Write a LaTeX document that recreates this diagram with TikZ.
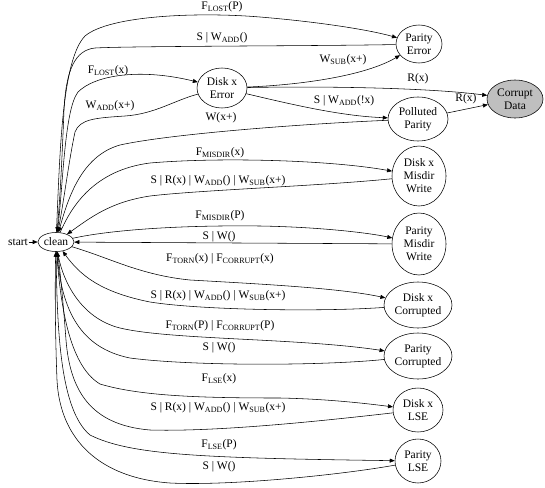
\documentclass[tikz,border=0pt]{standalone}
\usepackage{fontspec}
\setmainfont{Liberation Serif}
\usetikzlibrary{arrows.meta,shapes.geometric}
\newcommand{\sbs}[1]{\textsubscript{#1}}

\begin{document}
\begin{tikzpicture}[x=1pt, y=-1pt, font=\fontsize{11.5}{12.5}\selectfont, >={Triangle[length=5pt,width=4pt]}, line width=0.55pt,
  st/.style={draw, ellipse, inner sep=0pt, align=center, font=\fontsize{11.5}{13}\selectfont},
  sg/.style={st, fill=black!25},
  lb/.style={inner sep=0.5pt}]
  \useasboundingbox (0,0) rectangle (545,487);
  \node[lb] (start) at (18,242) {start};
  \node[st, minimum width=36, minimum height=19] (clean) at (56,242) {clean};
  \node[st, minimum width=46, minimum height=38] (perr) at (419,44) {Parity\\Error};
  \node[st, minimum width=50, minimum height=40] (derr) at (222,88) {Disk x\\Error};
  \node[sg, minimum width=56, minimum height=38] (cdata) at (515,99) {Corrupt\\Data};
  \node[st, minimum width=60, minimum height=44] (ppar) at (418,119) {Polluted\\Parity};
  \node[st, minimum width=54, minimum height=60] (dmis) at (419,176) {Disk x\\Misdir\\Write};
  \node[st, minimum width=54, minimum height=62] (pmis) at (419,244) {Parity\\Misdir\\Write};
  \node[st, minimum width=68, minimum height=46] (dcor) at (418,305) {Disk x\\Corrupted};
  \node[st, minimum width=68, minimum height=46] (pcor) at (418,356) {Parity\\Corrupted};
  \node[st, minimum width=50, minimum height=44] (dlse) at (418,410) {Disk x\\LSE};
  \node[st, minimum width=46, minimum height=44] (plse) at (418,461) {Parity\\LSE};
  \draw[->] (start) -- (clean);
  \draw[->] (clean) .. controls (60,150) and (62,60) .. (85,36) .. controls (110,15) and (200,12) .. (260,17) .. controls (320,22) and (370,30) .. (perr);
  \draw[->] (perr) .. controls (330,46) and (130,46) .. (95,48) .. controls (75,50) and (66,70) .. (64,110) .. controls (62,160) and (60,200) .. (clean);
  \draw[->] (clean) .. controls (63,190) and (64,110) .. (78,92) .. controls (95,75) and (140,68) .. (derr);
  \draw[->] (derr) .. controls (175,100) and (155,114) .. (125,116) .. controls (95,118) and (80,119) .. (75,132) .. controls (69,160) and (64,200) .. (clean);
  \draw[->] (ppar) .. controls (300,124) and (170,134) .. (120,145) .. controls (85,155) and (70,190) .. (clean);
  \draw[->] (derr) .. controls (300,85) and (365,76) .. (perr);
  \draw[->] (derr) .. controls (330,86) and (430,88) .. (cdata);
  \draw[->] (derr) .. controls (290,104) and (340,116) .. (ppar);
  \draw[->] (ppar) -- (cdata);
  \draw[->] (clean) .. controls (72,205) and (95,170) .. (150,163) .. controls (220,157) and (330,160) .. (dmis);
  \draw[->] (dmis) .. controls (320,186) and (200,190) .. (150,196) .. controls (110,202) and (90,218) .. (clean);
  \draw[->] (clean) .. controls (110,230) and (180,225) .. (260,226) .. controls (320,227) and (370,233) .. (pmis);
  \draw[->] (pmis) -- (clean);
  \draw[->] (clean) .. controls (110,258) and (140,275) .. (190,280) .. controls (260,284) and (340,288) .. (dcor);
  \draw[->] (dcor) .. controls (320,312) and (200,310) .. (150,302) .. controls (100,292) and (80,275) .. (clean);
  \draw[->] (clean) .. controls (62,280) and (80,318) .. (120,328) .. controls (170,340) and (300,338) .. (pcor);
  \draw[->] (pcor) .. controls (320,366) and (190,366) .. (130,358) .. controls (80,348) and (62,310) .. (clean);
  \draw[->] (clean) .. controls (60,300) and (68,365) .. (100,384) .. controls (140,396) and (200,398) .. (280,398) .. controls (330,399) and (370,404) .. (dlse);
  \draw[->] (dlse) .. controls (330,420) and (220,432) .. (150,430) .. controls (90,425) and (70,390) .. (66,340) .. controls (63,300) and (60,270) .. (clean);
  \draw[->] (clean) .. controls (57,330) and (60,410) .. (90,435) .. controls (130,455) and (200,458) .. (plse);
  \draw[->] (plse) .. controls (340,475) and (230,486) .. (170,483) .. controls (100,478) and (60,440) .. (57,380) .. controls (55,330) and (55,280) .. (clean);
  \node[lb] (l1) at (222,7) {F\sbs{LOST}(P)};
  \node[lb] (l2) at (222,38) {S \textbar{} W\sbs{ADD}()};
  \node[lb] (l3) at (108,71) {F\sbs{LOST}(x)};
  \node[lb] (l4) at (110,106) {W\sbs{ADD}(x+)};
  \node[lb] (l5) at (221,118) {W(x+)};
  \node[lb] (l6) at (343,60) {W\sbs{SUB}(x+)};
  \node[lb] (l7) at (418,79) {R(x)};
  \node[lb] (l8) at (344,101) {S \textbar{} W\sbs{ADD}(!x)};
  \node[lb] (l9) at (466,99) {R(x)};
  \node[lb] (l10) at (220,153) {F\sbs{MISDIR}(x)};
  \node[lb] (l11) at (218,181) {S \textbar{} R(x) \textbar{} W\sbs{ADD}() \textbar{} W\sbs{SUB}(x+)};
  \node[lb] (l12) at (220,216) {F\sbs{MISDIR}(P)};
  \node[lb] (l13) at (219,237) {S \textbar{} W()};
  \node[lb] (l14) at (220,259) {F\sbs{TORN}(x) \textbar{} F\sbs{CORRUPT}(x)};
  \node[lb] (l15) at (218,296) {S \textbar{} R(x) \textbar{} W\sbs{ADD}() \textbar{} W\sbs{SUB}(x+)};
  \node[lb] (l16) at (220,326) {F\sbs{TORN}(P) \textbar{} F\sbs{CORRUPT}(P)};
  \node[lb] (l17) at (219,348) {S \textbar{} W()};
  \node[lb] (l18) at (219,379) {F\sbs{LSE}(x)};
  \node[lb] (l19) at (218,408) {S \textbar{} R(x) \textbar{} W\sbs{ADD}() \textbar{} W\sbs{SUB}(x+)};
  \node[lb] (l20) at (219,445) {F\sbs{LSE}(P)};
  \node[lb] (l21) at (219,467) {S \textbar{} W()};
\end{tikzpicture}
\end{document}
